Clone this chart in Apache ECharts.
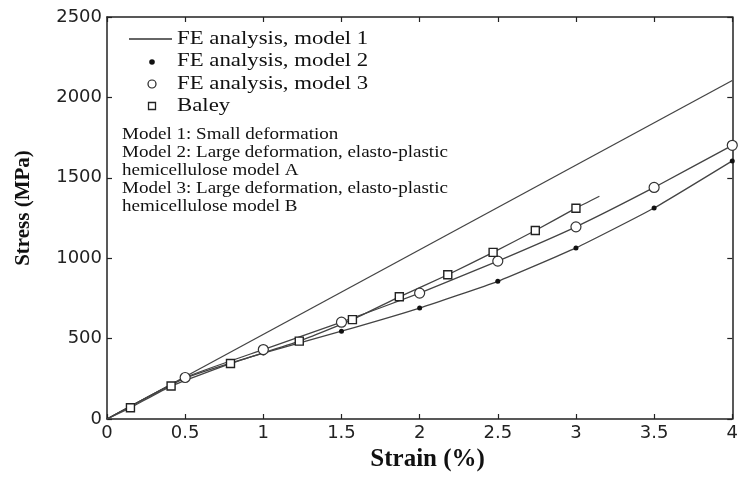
<!DOCTYPE html>
<html>
<head>
<meta charset="utf-8">
<script src="https://cdn.jsdelivr.net/npm/echarts@6/dist/echarts.min.js"></script>
<style>
html, body { margin: 0; padding: 0; background: #fff; }
#chart { width: 741px; height: 477px; }
</style>
</head>
<body>
<div id="chart"></div>
<script>
// values (strain in %, stress in MPa)
var model1Strain = [0, 4];
var model1Stress = [0, 2105];
var modelStrain = [0, 0.5, 1, 1.5, 2, 2.5, 3, 3.5, 4];
var model2Stress = [0, 254, 410, 546, 690, 856, 1064, 1312, 1605];
var model3Stress = [0, 258, 432, 602, 783, 982, 1195, 1440, 1702];
var baleyStrain = [0, 0.15, 0.41, 0.79, 1.23, 1.57, 1.87, 2.18, 2.47, 2.74, 3.0, 3.15];
var baleyStress = [0, 70, 205, 345, 484, 618, 760, 897, 1036, 1172, 1311, 1385];
var legendNames = ['FE analysis, model 1', 'FE analysis, model 2', 'FE analysis, model 3', 'Baley'];
var notes = [
    'Model 1: Small deformation',
    'Model 2: Large deformation, elasto-plastic',
    'hemicellulose model A',
    'Model 3: Large deformation, elasto-plastic',
    'hemicellulose model B'
];

// origin (and the tail of Baley's curve) carry no marker
function pairs(xs, ys, bareFirst, bareLast) {
    return xs.map(function (x, i) {
        var item = { value: [x, ys[i]] };
        if ((bareFirst && i === 0) || (bareLast && i === xs.length - 1)) item.symbol = 'none';
        return item;
    });
}

var ink = '#222';
var serif = '"Liberation Serif", "DejaVu Serif", serif';
var sans = '"DejaVu Sans", "Liberation Sans", sans-serif';

var chart = echarts.init(document.getElementById('chart'));

var axisCommon = {
    axisLine: { show: true, onZero: false, lineStyle: { color: ink, width: 1.5 } },
    axisTick: { show: true, inside: true, length: 5, lineStyle: { color: ink, width: 1.2 } },
    splitLine: { show: false }
};

chart.setOption({
    animation: false,
    backgroundColor: '#fff',
    grid: { left: 107, right: 4, top: 17, bottom: 54 },
    xAxis: [
        Object.assign({
            type: 'value', min: 0, max: 4, interval: 0.5,
            name: 'Strain (%)', nameLocation: 'middle', nameGap: 28,
            nameTextStyle: { fontFamily: serif, fontWeight: 'bold', fontSize: 25, color: '#111', padding: [0, 0, 0, 16] },
            axisLabel: { color: ink, fontFamily: sans, fontSize: 18, margin: 5 }
        }, axisCommon),
        Object.assign({
            type: 'value', min: 0, max: 4, interval: 0.5, position: 'top',
            axisLabel: { show: false }
        }, axisCommon)
    ],
    yAxis: [
        Object.assign({
            type: 'value', min: 0, max: 2500, interval: 500,
            axisLabel: { color: ink, fontFamily: sans, fontSize: 18, margin: 5, formatter: function (v) { return String(v); } }
        }, axisCommon),
        Object.assign({
            type: 'value', min: 0, max: 2500, interval: 500, position: 'right',
            axisLabel: { show: false }
        }, axisCommon)
    ],
    series: [
        {
            name: legendNames[0], type: 'line', symbol: 'none',
            data: pairs(model1Strain, model1Stress, false, false),
            lineStyle: { color: '#444', width: 1.3 }
        },
        {
            name: legendNames[1], type: 'line', smooth: 0.15,
            symbol: 'circle', symbolSize: 5,
            data: pairs(modelStrain, model2Stress, true, false),
            itemStyle: { color: '#111' },
            lineStyle: { color: '#444', width: 1.3 }
        },
        {
            name: legendNames[2], type: 'line', smooth: 0.15,
            symbol: 'circle', symbolSize: 10,
            data: pairs(modelStrain, model3Stress, true, false),
            itemStyle: { color: '#fff', borderColor: '#333', borderWidth: 1.2 },
            lineStyle: { color: '#444', width: 1.3 }
        },
        {
            name: legendNames[3], type: 'line', smooth: 0.15,
            symbol: 'rect', symbolSize: 8,
            data: pairs(baleyStrain, baleyStress, true, true),
            itemStyle: { color: '#fff', borderColor: '#222', borderWidth: 1.4 },
            lineStyle: { color: '#444', width: 1.3 }
        }
    ],
    graphic: [
        { type: 'line', shape: { x1: 129, y1: 39, x2: 172, y2: 39 }, style: { stroke: '#333', lineWidth: 1.3 } },
        { type: 'circle', shape: { cx: 152, cy: 62, r: 2.8 }, style: { fill: '#111' } },
        { type: 'circle', shape: { cx: 152, cy: 84, r: 4 }, style: { fill: '#fff', stroke: '#222', lineWidth: 1.2 } },
        { type: 'rect', shape: { x: 148.5, y: 102.5, width: 7, height: 7 }, style: { fill: '#fff', stroke: '#222', lineWidth: 1.3 } },
        {
            type: 'group', x: 177, y: 0, scaleX: 1.2,
            children: legendNames.map(function (n, i) {
                return {
                    type: 'text', x: 0, y: 39 + i * 22.4,
                    style: { text: n, font: '19px ' + serif, fill: '#111', verticalAlign: 'middle' }
                };
            })
        },
        {
            type: 'group', x: 122, y: 0, scaleX: 1.12,
            children: notes.map(function (n, i) {
                return {
                    type: 'text', x: 0, y: 135 + i * 17.8,
                    style: { text: n, font: '17px ' + serif, fill: '#111', verticalAlign: 'middle' }
                };
            })
        },
        {
            type: 'text', x: 24, y: 208, rotation: Math.PI / 2,
            style: {
                text: 'Stress (MPa)', font: 'bold 21px ' + serif, fill: '#111',
                align: 'center', verticalAlign: 'middle'
            }
        }
    ]
});
</script>
</body>
</html>
